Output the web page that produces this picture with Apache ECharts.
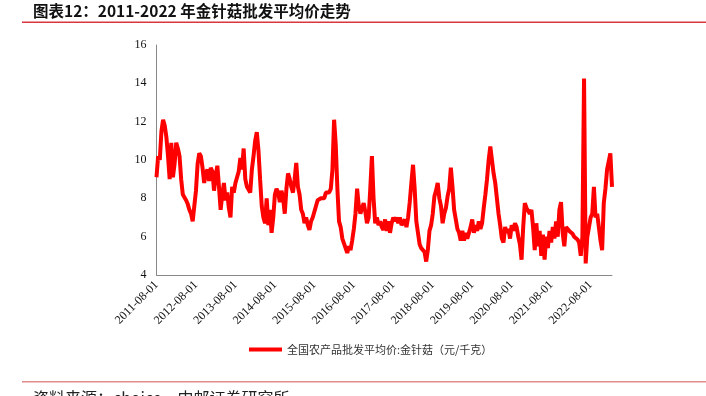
<!DOCTYPE html>
<html>
<head>
<meta charset="utf-8">
<script src="https://cdn.jsdelivr.net/npm/echarts@6/dist/echarts.min.js"></script>
<style>
html,body{margin:0;padding:0;background:#fff;}
#c{width:706px;height:396px;}
</style>
</head>
<body>
<div id="c"></div>
<script>
// Semi-monthly prices (yuan/kg), each array runs Aug -> next Jul
var p2011 = [9.1,10.2,10.0,11.5,12.1,11.8,11.2,10.2,9.0,10.9,9.1,9.8,10.9,10.6,10.2,9.0,8.2,8.3,7.9,7.7,7.4,7.2,6.8,7.6];
var p2012 = [8.4,9.8,10.35,10.2,9.6,8.8,9.3,9.5,8.9,9.6,9.4,8.4,9.2,9.7,8.6,7.4,8.2,8.8,7.9,8.3,7.5,7.0,8.6,8.3];
var p2013 = [8.8,9.1,9.4,10.1,9.5,10.6,9.0,8.6,8.6,8.3,9.5,10.2,11.0,11.45,10.5,9.0,7.6,7.0,6.7,8.0,6.6,7.4,6.2,7.0];
var p2014 = [8.2,8.5,8.3,7.8,8.4,8.0,7.2,8.5,9.3,9.0,8.6,8.3,9.0,9.85,8.6,8.2,7.4,7.2,6.7,7.0,6.6,6.35,6.8,7.0];
var p2015 = [7.3,7.6,7.9,7.8,8.0,8.1,8.0,8.3,8.4,8.3,8.5,9.5,12.1,10.8,8.5,6.8,6.5,5.9,5.8,5.4,5.15,5.5,5.3,5.8];
var p2016 = [6.4,7.2,8.5,7.6,7.2,7.5,7.75,7.3,6.7,7.0,8.5,10.2,8.0,6.7,7.0,6.6,6.8,6.5,6.35,6.9,6.3,6.8,6.2,6.7];
var p2017 = [7.0,6.8,7.0,6.7,7.0,6.6,6.5,6.9,6.5,7.0,7.8,8.8,9.75,8.5,6.8,6.2,5.6,5.4,5.3,5.2,4.7,5.3,6.3,6.6];
var p2018 = [7.2,8.1,8.4,8.8,8.0,7.6,6.7,7.2,7.5,8.1,8.5,9.6,8.6,7.4,6.9,6.4,6.2,5.8,6.3,5.8,6.2,5.9,6.0,6.5];
var p2019 = [6.9,6.2,6.6,6.3,6.8,6.4,6.7,7.5,8.2,9.0,10.0,10.7,10.0,9.3,8.8,8.0,7.2,6.6,5.9,5.7,6.5,6.2,6.4,5.9];
var p2020 = [6.6,6.3,6.7,6.5,6.0,5.6,4.8,6.5,7.75,7.5,7.6,7.2,7.4,6.5,5.3,6.7,5.5,6.3,5.0,6.1,4.8,6.0,5.4,6.3];
var p2021 = [5.7,6.5,5.9,6.8,6.0,7.4,7.8,6.2,5.5,6.5,6.4,6.3,6.2,6.15,6.0,5.9,5.85,5.7,5.0,6.0,14.25,4.6,6.0,6.5];
var p2022 = [7.0,7.2,8.6,7.0,7.2,6.5,5.8,5.3,7.75,8.5,9.5,9.6,10.35,8.6];

var seriesName = '全国农产品批发平均价:金针菇（元/千克）';
var yTicks = {min: 4, max: 16, interval: 2};
var titleText = '图表12：2011-2022 年金针菇批发平均价走势';
var sourceText = '资料来源：choice，中邮证券研究所';

var prices = [].concat(p2011,p2012,p2013,p2014,p2015,p2016,p2017,p2018,p2019,p2020,p2021,p2022);

// Category dates: 1st and 16th of every month from 2011-08-01
var dates = [];
(function(){
  var y = 2011, m = 8;
  function pad(n){return (n<10?'0':'')+n;}
  while (dates.length < prices.length) {
    dates.push(y+'-'+pad(m)+'-01');
    if (dates.length < prices.length) dates.push(y+'-'+pad(m)+'-16');
    m++; if (m > 12) { m = 1; y++; }
  }
})();

var chart = echarts.init(document.getElementById('c'), null, {renderer:'canvas'});
chart.setOption({
  animation: false,
  backgroundColor: '#fff',
  graphic: [
    {type:'text', left: 33, top: 3.5, style:{text: titleText, font:'bold 15.5px "Noto Sans CJK SC", sans-serif', fill:'#111'}},
    {type:'rect', shape:{x:22, y:21.5, width:684, height:1.5}, style:{fill:'#d9363e'}},
    {type:'rect', shape:{x:22, y:381, width:684, height:1.5}, style:{fill:'#e08a8a'}},
    {type:'text', left: 33, top: 390, style:{text: sourceText, font:'16px "Noto Sans CJK SC", sans-serif', fill:'#222'}}
  ],
  grid: {left: 156.5, right: 94, top: 45, bottom: 121, containLabel: false},
  legend: {
    data: [seriesName],
    left: 249, top: 344, padding: 0,
    icon: 'rect', itemWidth: 33, itemHeight: 4, itemGap: 10,
    textStyle: {fontSize: 11, color: '#333', fontFamily: '"Noto Sans CJK SC", sans-serif'}
  },
  xAxis: {
    type: 'category',
    data: dates,
    boundaryGap: false,
    axisLine: {lineStyle: {color: '#888', width: 1}},
    axisTick: {show: false},
    splitLine: {show: false},
    axisLabel: {
      rotate: 45,
      margin: 8,
      interval: function(idx, val){ return val.slice(5) === '08-01'; },
      fontFamily: '"Liberation Serif", "Times New Roman", serif',
      fontSize: 12,
      color: '#111'
    }
  },
  yAxis: {
    type: 'value',
    min: yTicks.min, max: yTicks.max, interval: yTicks.interval,
    axisLine: {show: true, lineStyle: {color: '#888', width: 1}},
    axisTick: {show: false},
    splitLine: {show: false},
    axisLabel: {
      margin: 10,
      fontFamily: '"Liberation Serif", "Times New Roman", serif',
      fontSize: 12,
      color: '#111'
    }
  },
  series: [{
    name: seriesName,
    type: 'line',
    data: prices,
    showSymbol: false,
    symbol: 'none',
    smooth: false,
    lineStyle: {color: '#ff0000', width: 4},
    itemStyle: {color: '#ff0000'}
  }]
});
</script>
</body>
</html>
